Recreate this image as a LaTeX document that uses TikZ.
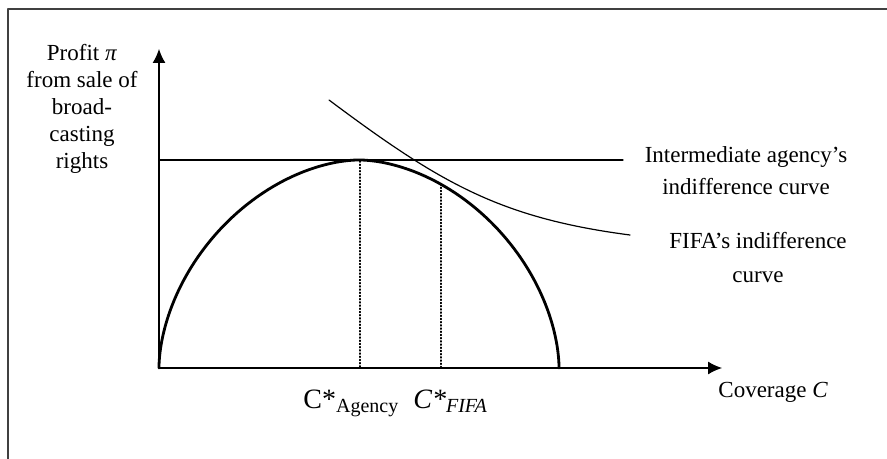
\documentclass[tikz,border=0pt]{standalone}
\usepackage{fontspec}
\setmainfont{Liberation Serif}
\usetikzlibrary{arrows.meta}

\begin{document}
\begin{tikzpicture}[x=0.5pt,y=-0.5pt,>={Latex[length=7pt,width=6.5pt]}, font=\fontsize{11.5}{13.5}\selectfont, line join=round, line cap=round]
	\def\cx{359} \def\a{200} \def\b{208} \def\e{0.111} % profit curve
	\def\xO{159} \def\yO{368}
	\useasboundingbox (0,0) rectangle (887,459);
	\draw[black!75,line width=1pt,line cap=butt] (8,459)--(8,9)--(887,9);
	\coordinate (O) at (\xO,\yO);
	\coordinate (Y) at (\xO,49);
	\coordinate (X) at (722,\yO);
	\draw[->,line width=0.6pt] (O)--(Y);
	\draw[->,line width=0.6pt] (O)--(X);
	\coordinate (Hl) at (\xO,160); \coordinate (Hr) at (623,160);
	\draw[line width=0.6pt] (Hl)--(Hr);
	\draw[line width=1.4pt,smooth,samples=120,domain=0.05:179.95] plot({\cx+\a*cos(\x)*abs(cos(\x))^\e},{\yO-\b*sin(\x)*abs(sin(\x))^\e});
	\coordinate (Fs) at (329,100); \coordinate (Fe) at (630,235);
	\draw[line width=0.6pt] (Fs) .. controls (440,183) and (500,218) .. (Fe);
	\coordinate (Pa) at (360,161); \coordinate (Ca) at (360,\yO);
	\coordinate (Pf) at (441,184); \coordinate (Cf) at (441,\yO);
	\draw[densely dotted,line width=0.6pt] (Pa)--(Ca);
	\draw[densely dotted,line width=0.6pt] (Pf)--(Cf);
	\node[align=center] (ylab) at (82,109) {Profit \textit{π}\\ from sale of\\ broad-\\ casting\\ rights};
	\node[anchor=base west,inner sep=0pt] (cag) at (303,408) {{\fontsize{14}{16}\selectfont C*}\raisebox{-2pt}{\fontsize{10}{12}\selectfont Agency}};
	\node[anchor=base west,inner sep=0pt] (cfi) at (413,408) {{\fontsize{14}{16}\selectfont\itshape C*}\raisebox{-2pt}{\fontsize{10}{12}\selectfont\itshape FIFA}};
	\node[anchor=base west,inner sep=0pt] (xlab) at (718,397) {Coverage \textit{C}};
	\node[align=center,font=\fontsize{11.5}{16}\selectfont] (agc) at (746,171) {Intermediate agency’s\\ indifference curve};
	\node[align=center,font=\fontsize{11.5}{17}\selectfont] (fic) at (758,258) {FIFA’s indifference\\ curve};
\end{tikzpicture}
\end{document}
